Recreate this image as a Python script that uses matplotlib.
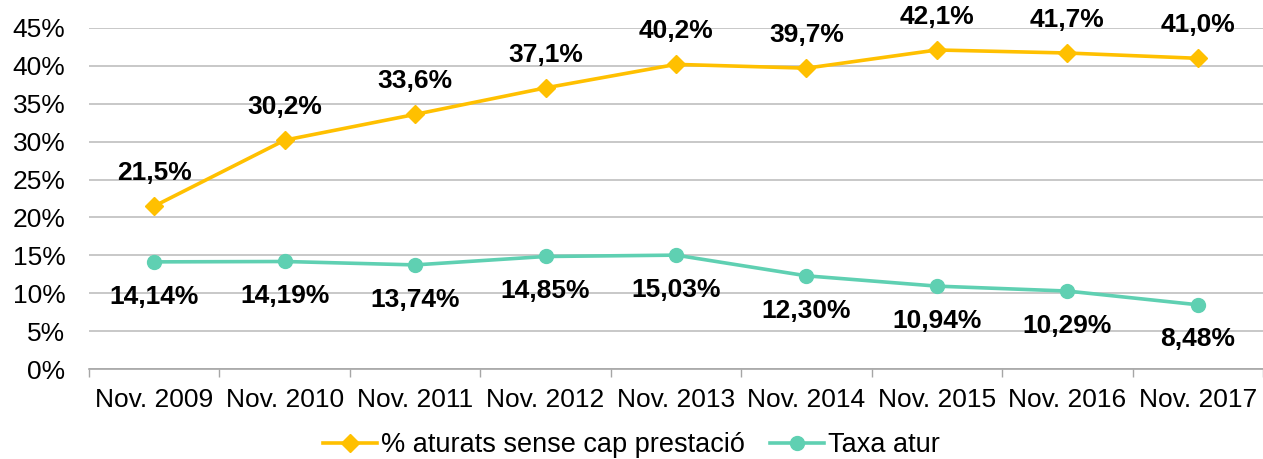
import matplotlib
matplotlib.use("Agg")
import matplotlib.pyplot as plt
import numpy as np

categories = ["Nov. 2009", "Nov. 2010", "Nov. 2011", "Nov. 2012", "Nov. 2013",
              "Nov. 2014", "Nov. 2015", "Nov. 2016", "Nov. 2017"]
sense_prestacio = [21.5, 30.2, 33.6, 37.1, 40.2, 39.7, 42.1, 41.7, 41.0]
taxa_atur = [14.14, 14.19, 13.74, 14.85, 15.03, 12.30, 10.94, 10.29, 8.48]
series_names = ["% aturats sense cap prestació", "Taxa atur"]
yticks = [0, 5, 10, 15, 20, 25, 30, 35, 40, 45]

plt.rcParams['font.family'] = ['Liberation Sans', 'DejaVu Sans']

ORANGE = "#FFC000"
TEAL = "#5FD0B2"

fig = plt.figure(figsize=(12.63, 4.59), dpi=100)
ax = fig.add_axes([0.0705, 0.196, 0.9295, 0.743])

x = np.arange(len(categories))
ax.plot(x, sense_prestacio, color=ORANGE, lw=2.6, marker="D", ms=9,
        label=series_names[0], zorder=3)
ax.plot(x, taxa_atur, color=TEAL, lw=2.6, marker="o", ms=10,
        label=series_names[1], zorder=3)

for xi, v in zip(x, sense_prestacio):
    ax.annotate(f"{v:.1f}%".replace(".", ","), (xi, v), xytext=(0, 24),
                textcoords="offset points", ha="center", va="center",
                fontsize=19, fontweight="bold")
for xi, v in zip(x, taxa_atur):
    ax.annotate(f"{v:.2f}%".replace(".", ","), (xi, v), xytext=(0, -25),
                textcoords="offset points", ha="center", va="center",
                fontsize=19, fontweight="bold")

ax.set_xlim(-0.5, len(categories) - 0.5)
ax.set_ylim(0, 45)
ax.set_yticks(yticks)
ax.set_yticklabels([f"{t}%" for t in yticks], fontsize=19)
ax.set_xticks(x)
ax.set_xticklabels(categories, fontsize=19)
ax.set_xticks(np.arange(-0.5, len(categories)), minor=True)
ax.tick_params(axis="x", which="major", length=0, pad=14)
ax.tick_params(axis="x", which="minor", length=6, color="#A6A6A6", width=1)
ax.tick_params(axis="y", length=0, pad=17)
ax.grid(axis="y", color="#BFBFBF", lw=1.2)
ax.set_axisbelow(True)
for s in ["left", "right", "top"]:
    ax.spines[s].set_visible(False)
ax.spines["bottom"].set_color("#A6A6A6")
ax.spines["bottom"].set_linewidth(1.2)

leg = fig.legend(loc="center", bbox_to_anchor=(0.5, 0.03), ncol=2, frameon=False,
                 fontsize=19.5, handlelength=2.0, columnspacing=0.9, handletextpad=0.15)

fig.savefig("out.png", dpi=100)
